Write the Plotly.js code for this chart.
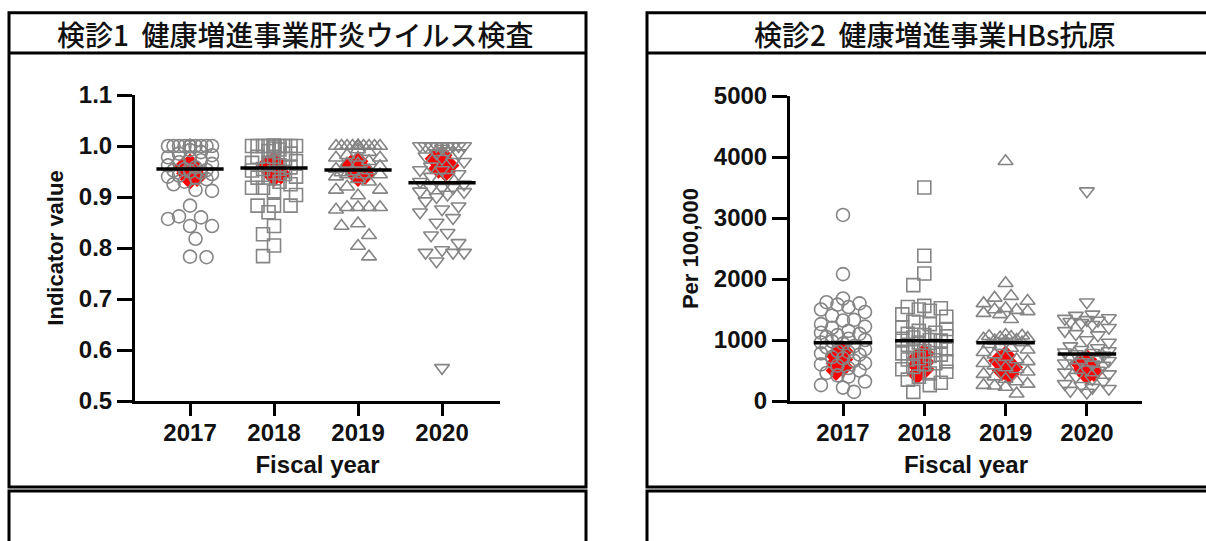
<!DOCTYPE html>
<html><head><meta charset="utf-8">
<script src="https://cdn.plot.ly/plotly-3.0.1.min.js"></script>
<style>html,body{margin:0;padding:0;background:#fff}#chart{width:1206px;height:541px}</style>
</head><body><div id="chart"></div>
<script>
// ---------------- data ----------------
const years = [2017, 2018, 2019, 2020];
const yearLabels = ['2017', '2018', '2019', '2020'];

const titleLeft = '検診1  健康増進事業肝炎ウイルス検査';
const titleRight = '検診2  健康増進事業HBs抗原';
const xTitle = 'Fiscal year';
const yTitleLeft = 'Indicator value';
const yTitleRight = 'Per 100,000';

// Panel 1: indicator values (gray open markers)
const hcv2017 = [1,1,1,1,1,1,1,1,1,1,1,1,1,0.992,0.988,0.985,0.982,0.978,0.975,0.972,0.968,0.965,0.962,0.958,0.955,
  0.953,0.952,0.95,0.948,0.945,0.942,0.94,0.938,0.935,0.93,0.925,0.914,0.912,0.883,0.862,0.86,0.857,0.843,0.843,0.818,0.783,0.782];
const hcv2018 = [1,1,1,1,1,1,1,1,1,1,1,1,1,0.995,0.993,0.99,0.985,0.979,0.979,0.975,0.97,0.967,0.967,0.962,0.958,
  0.955,0.952,0.948,0.945,0.94,0.938,0.938,0.93,0.925,0.918,0.918,0.911,0.904,0.883,0.883,0.883,0.87,0.843,0.827,0.805,0.784];
const hcv2019 = [1,1,1,1,1,1,1,1,1,1,1,1,1,0.993,0.988,0.982,0.977,0.977,0.977,0.97,0.965,0.965,0.96,0.955,
  0.952,0.95,0.948,0.944,0.944,0.944,0.94,0.935,0.93,0.92,0.914,0.914,0.903,0.88,0.88,0.88,0.88,0.875,0.848,0.843,0.825,0.804,0.783];
const hcv2020 = [1,1,1,1,1,1,1,1,1,0.995,0.99,0.986,0.986,0.98,0.975,0.969,0.969,0.96,0.953,0.953,0.945,0.94,0.94,0.93,
  0.925,0.918,0.918,0.918,0.911,0.91,0.905,0.9,0.892,0.882,0.876,0.87,0.859,0.85,0.83,0.825,0.81,0.796,0.791,0.791,0.791,0.774,0.565];
const hcvMedian = [0.955, 0.957, 0.953, 0.928];

// Panel 1: highlighted values (red diamonds)
const hcvRed2017 = [0.965, 0.958, 0.952, 0.946, 0.94, 0.935];
const hcvRed2018 = [0.97, 0.963, 0.957, 0.95, 0.945, 0.94];
const hcvRed2019 = [0.97, 0.963, 0.957, 0.95, 0.944, 0.94];
const hcvRed2020 = [0.982, 0.975, 0.968, 0.962, 0.956, 0.95];

// Panel 2: HBs antigen per 100,000 (gray open markers)
const hbs2017 = [3050,2080,1680,1620,1600,1580,1540,1500,1460,1400,1330,1320,1260,1220,1200,1150,1120,1100,1080,1050,1020,1000,980,960,
  940,900,880,850,820,800,780,760,720,700,660,620,600,580,540,500,460,420,400,320,260,220,150];
const hbs2018 = [3500,2380,2090,1900,1560,1540,1520,1500,1480,1420,1380,1300,1260,1200,1180,1150,1120,1100,1080,1060,1040,1020,1000,990,
  960,920,880,850,820,800,780,760,740,700,680,650,620,600,560,520,480,450,400,350,300,260,150];
const hbs2019 = [3930,1930,1720,1690,1640,1600,1520,1500,1490,1470,1440,1420,1340,1080,1070,1060,1050,1040,1030,1020,1000,990,980,960,
  930,900,870,840,800,760,720,680,650,620,580,550,520,480,440,400,360,320,280,260,250,230,120];
const hbs2020 = [3440,1620,1420,1400,1360,1350,1330,1320,1300,1280,1250,1200,1150,1100,1080,1000,960,900,870,840,820,800,790,770,
  750,730,700,680,660,640,620,600,580,560,520,500,470,440,400,360,320,280,250,220,200,170,140];
const hbsMedian = [956, 989, 956, 770];

// Panel 2: highlighted values (red diamonds)
const hbsRed2017 = [820, 740, 680, 620, 560, 500];
const hbsRed2018 = [780, 700, 640, 580, 520, 440];
const hbsRed2019 = [740, 660, 600, 550, 500, 440];
const hbsRed2020 = [680, 620, 570, 520, 480, 430];

// ---------------- geometry / style ----------------
const W = 1206, H = 541;
const G = {
  L: {x0: 135, x1: 500, xr: [2016.345, 2020.69], yTop: 95, yBot: 401, yr: [0.5, 1.1]},
  R: {x0: 790, x1: 1142, xr: [2016.348, 2020.678], yTop: 96, yBot: 401, yr: [0, 5000]}
};
const GRAY = '#858585';

function swarm(vals, pxY, pxX, diam, maxHalf, step) {
  const idx = vals.map((v, i) => i).sort((a, b) => vals[b] - vals[a]);
  const placed = [];
  const off = new Array(vals.length).fill(0);
  idx.forEach((i, n) => {
    const y = vals[i] * pxY;
    const sgn = n % 2 ? -1 : 1;
    const cands = [0];
    for (let k = 1; k * step <= maxHalf + 1e-6; k++) cands.push(sgn * k * step, -sgn * k * step);
    let best = 0, bestD = -1;
    for (const c of cands) {
      let md = Infinity;
      for (const p of placed) { const d = Math.hypot(c - p.x, y - p.y); if (d < md) md = d; }
      if (md >= diam) { best = c; bestD = md; break; }
      if (md > bestD) { bestD = md; best = c; }
    }
    placed.push({x: best, y});
    off[i] = best / pxX;
  });
  return off;
}

function scales(g) {
  return {
    pxX: (g.x1 - g.x0) / (g.xr[1] - g.xr[0]),
    pxY: (g.yBot - g.yTop) / (g.yr[1] - g.yr[0])
  };
}

const traces = [];
function addPanel(g, xa, ya, groups, reds, medians, symbols, halfLine) {
  const s = scales(g);
  reds.forEach((vals, k) => {
    const off = swarm(vals, s.pxY, s.pxX, 7, 7, 3.5);
    traces.push({
      type: 'scatter', mode: 'markers', xaxis: xa, yaxis: ya, hoverinfo: 'skip',
      x: vals.map((v, i) => years[k] + off[i]), y: vals,
      marker: {symbol: 'diamond', size: 16, color: '#ff0000', line: {width: 0}}
    });
  });
  groups.forEach((vals, k) => {
    const off = swarm(vals, s.pxY, s.pxX, 13, 22, 5.5);
    traces.push({
      type: 'scatter', mode: 'markers', xaxis: xa, yaxis: ya, hoverinfo: 'skip',
      x: vals.map((v, i) => years[k] + off[i]), y: vals,
      marker: {symbol: symbols[k], size: 13, color: GRAY, line: {width: 1.6, color: GRAY}}
    });
  });
  const lx = [], ly = [];
  medians.forEach((m, k) => { lx.push(years[k] - halfLine, years[k] + halfLine, null); ly.push(m, m, null); });
  traces.push({type: 'scatter', mode: 'lines', xaxis: xa, yaxis: ya, hoverinfo: 'skip',
    x: lx, y: ly, line: {color: '#000', width: 3.5}});
}

const syms = ['circle-open', 'square-open', 'triangle-up-open', 'triangle-down-open'];
addPanel(G.L, 'x', 'y', [hcv2017, hcv2018, hcv2019, hcv2020],
  [hcvRed2017, hcvRed2018, hcvRed2019, hcvRed2020], hcvMedian, syms, 0.4);
addPanel(G.R, 'x2', 'y2', [hbs2017, hbs2018, hbs2019, hbs2020],
  [hbsRed2017, hbsRed2018, hbsRed2019, hbsRed2020], hbsMedian, syms, 0.36);

const tickFont = {family: 'Liberation Sans, Arial, sans-serif', size: 24, color: '#111', weight: 'bold'};
const xTitleFont = {family: 'Liberation Sans, Arial, sans-serif', size: 24, color: '#111', weight: 'bold'};
const yTitleFont = {family: 'Liberation Sans, Arial, sans-serif', size: 22, color: '#111', weight: 'bold'};

function xAxis(g, anchor) {
  return {
    domain: [g.x0 / W, g.x1 / W], range: g.xr, anchor: anchor,
    tickmode: 'array', tickvals: years, ticktext: yearLabels,
    ticks: 'outside', ticklen: 12, tickwidth: 3, tickcolor: '#000', ticklabelstandoff: -4,
    showline: true, linewidth: 3, linecolor: '#000', showgrid: false, zeroline: false,
    tickfont: tickFont, title: {text: xTitle, font: xTitleFont, standoff: 12}, fixedrange: true
  };
}
function yAxis(g, anchor, dtick, fmt, title) {
  return {
    domain: [(H - g.yBot) / H, (H - g.yTop) / H], range: g.yr, anchor: anchor,
    tick0: g.yr[0], dtick: dtick, tickformat: fmt,
    ticks: 'outside', ticklen: 15, tickwidth: 3, tickcolor: '#000',
    showline: true, linewidth: 3, linecolor: '#000', showgrid: false, zeroline: false,
    tickfont: tickFont, title: {text: title, font: yTitleFont, standoff: 10}, fixedrange: true
  };
}

const fy = py => 1 - py / H, fx = px => px / W;
const lineStyle = {color: '#000', width: 3};
const shapes = [
  {type: 'rect', xref: 'paper', yref: 'paper', x0: fx(9), x1: fx(586), y0: fy(487), y1: fy(12.7), line: lineStyle},
  {type: 'line', xref: 'paper', yref: 'paper', x0: fx(9), x1: fx(586), y0: fy(53), y1: fy(53), line: lineStyle},
  {type: 'rect', xref: 'paper', yref: 'paper', x0: fx(9), x1: fx(586), y0: fy(560), y1: fy(491), line: lineStyle},
  {type: 'rect', xref: 'paper', yref: 'paper', x0: fx(647), x1: fx(1220), y0: fy(487), y1: fy(12.7), line: lineStyle},
  {type: 'line', xref: 'paper', yref: 'paper', x0: fx(647), x1: fx(1220), y0: fy(53), y1: fy(53), line: lineStyle},
  {type: 'rect', xref: 'paper', yref: 'paper', x0: fx(647), x1: fx(1220), y0: fy(560), y1: fy(491), line: lineStyle}
];

const cjk = {family: 'Noto Sans CJK JP, sans-serif', size: 28, color: '#111', weight: 500};
const annotations = [
  {xref: 'paper', yref: 'paper', x: fx(295), y: fy(34), text: titleLeft, showarrow: false, font: cjk, xanchor: 'center', yanchor: 'middle'},
  {xref: 'paper', yref: 'paper', x: fx(934), y: fy(34), text: titleRight, showarrow: false, font: cjk, xanchor: 'center', yanchor: 'middle'}
];

const layout = {
  width: W, height: H, margin: {l: 0, r: 0, t: 0, b: 0},
  paper_bgcolor: '#fff', plot_bgcolor: 'rgba(0,0,0,0)', showlegend: false,
  xaxis: xAxis(G.L, 'y'), yaxis: yAxis(G.L, 'x', 0.1, '.1f', yTitleLeft),
  xaxis2: xAxis(G.R, 'y2'), yaxis2: yAxis(G.R, 'x2', 1000, 'd', yTitleRight),
  shapes: shapes, annotations: annotations
};

Plotly.newPlot('chart', traces, layout, {displayModeBar: false, staticPlot: true});
</script></body></html>
